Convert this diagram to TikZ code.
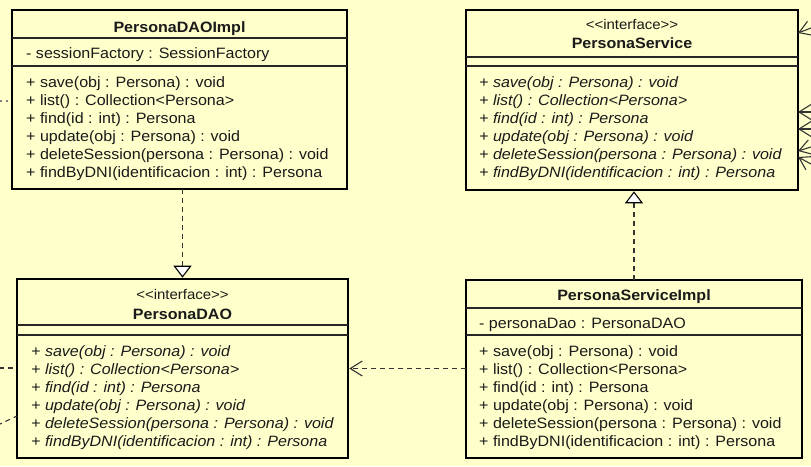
\documentclass[tikz,border=0pt]{standalone}
\usepackage{fontspec}
\setmainfont{Liberation Sans}[FakeStretch=1.07]
\usetikzlibrary{arrows.meta}
\definecolor{umlbg}{HTML}{FFFFCC}
\definecolor{ink}{HTML}{1A1A1A}

\tikzset{
  classbox/.style={draw=black, line width=2.6pt, fill=umlbg, anchor=north west, inner sep=0pt, outer sep=0pt},
  compartment/.style={draw=black!85, line width=1.4pt},
  member/.style={anchor=base west, inner sep=0pt, font=\fontsize{15}{18}\selectfont, text=ink},
  absmember/.style={member, font=\fontsize{15}{18}\selectfont\itshape},
  classname/.style={anchor=base, inner sep=0pt, font=\fontsize{15}{18}\selectfont\bfseries, text=ink},
  stereo/.style={anchor=base, inner sep=0pt, font=\fontsize{14}{17}\selectfont, text=ink},
  link/.style={draw=black!80, line width=1.1pt, dash pattern=on 5pt off 4pt},
  realize/.style={link, -{Triangle[open, fill=white, length=12pt, width=18pt, line width=1.1pt, color=black]}},
  uses/.style={link, -{Straight Barb[length=12pt, width=15pt, line width=1.1pt]}},
  incoming/.style={draw=black!80, line width=1.1pt, -{Straight Barb[length=12pt, width=15pt, line width=1.1pt]}},
}

\begin{document}
\begin{tikzpicture}[x=1pt, y=-1pt]
  % canvas
  \useasboundingbox (0,0) rectangle (811,466);
  \fill[umlbg] (0,0) rectangle (811,466);

  % ---------- PersonaDAOImpl ----------
  \node[classbox, minimum width=335pt, minimum height=179pt] (daoimpl) at (12,10) {};
  \draw[compartment] (daoimpl.west |- 0,38) -- (daoimpl.east |- 0,38);
  \draw[compartment] (daoimpl.west |- 0,66) -- (daoimpl.east |- 0,66);
  \node[classname] (daoimplname) at (179.5,32) {PersonaDAOImpl};
  \node[member] (daoimplattr) at (26,58) {- sessionFactory : SessionFactory};
  \node[member] (daoimplm1) at (26,87)  {+ save(obj : Persona) : void};
  \node[member] (daoimplm2) at (26,105) {+ list() : Collection<Persona>};
  \node[member] (daoimplm3) at (26,123) {+ find(id : int) : Persona};
  \node[member] (daoimplm4) at (26,141) {+ update(obj : Persona) : void};
  \node[member] (daoimplm5) at (26,159) {+ deleteSession(persona : Persona) : void};
  \node[member] (daoimplm6) at (26,177) {+ findByDNI(identificacion : int) : Persona};

  % ---------- PersonaService ----------
  \node[classbox, minimum width=332pt, minimum height=180pt] (service) at (466,10) {};
  \draw[compartment] (service.west |- 0,57) -- (service.east |- 0,57);
  \draw[compartment] (service.west |- 0,66) -- (service.east |- 0,66);
  \node[stereo] (servicestereo) at (632,29.5) {<{}<interface>{}>};
  \node[classname] (servicename) at (632,48) {PersonaService};
  \node[absmember] (servicem1) at (479,87)  {+ save(obj : Persona) : void};
  \node[absmember] (servicem2) at (479,105) {+ list() : Collection<Persona>};
  \node[absmember] (servicem3) at (479,123) {+ find(id : int) : Persona};
  \node[absmember] (servicem4) at (479,141) {+ update(obj : Persona) : void};
  \node[absmember] (servicem5) at (479,159) {+ deleteSession(persona : Persona) : void};
  \node[absmember] (servicem6) at (479,177) {+ findByDNI(identificacion : int) : Persona};

  % ---------- PersonaDAO ----------
  \node[classbox, minimum width=331pt, minimum height=179pt] (dao) at (17,279) {};
  \draw[compartment] (dao.west |- 0,325) -- (dao.east |- 0,325);
  \draw[compartment] (dao.west |- 0,335) -- (dao.east |- 0,335);
  \node[stereo] (daostereo) at (182.5,299) {<{}<interface>{}>};
  \node[classname] (daoname) at (182.5,319) {PersonaDAO};
  \node[absmember] (daom1) at (31,356) {+ save(obj : Persona) : void};
  \node[absmember] (daom2) at (31,374) {+ list() : Collection<Persona>};
  \node[absmember] (daom3) at (31,392) {+ find(id : int) : Persona};
  \node[absmember] (daom4) at (31,410) {+ update(obj : Persona) : void};
  \node[absmember] (daom5) at (31,428) {+ deleteSession(persona : Persona) : void};
  \node[absmember] (daom6) at (31,446) {+ findByDNI(identificacion : int) : Persona};

  % ---------- PersonaServiceImpl ----------
  \node[classbox, minimum width=336pt, minimum height=178pt] (impl) at (466,280) {};
  \draw[compartment] (impl.west |- 0,308) -- (impl.east |- 0,308);
  \draw[compartment] (impl.west |- 0,335) -- (impl.east |- 0,335);
  \node[classname] (implname) at (634,300.5) {PersonaServiceImpl};
  \node[member] (implattr) at (479,328) {- personaDao : PersonaDAO};
  \node[member] (implm1) at (479,356) {+ save(obj : Persona) : void};
  \node[member] (implm2) at (479,374) {+ list() : Collection<Persona>};
  \node[member] (implm3) at (479,392) {+ find(id : int) : Persona};
  \node[member] (implm4) at (479,410) {+ update(obj : Persona) : void};
  \node[member] (implm5) at (479,428) {+ deleteSession(persona : Persona) : void};
  \node[member] (implm6) at (479,446) {+ findByDNI(identificacion : int) : Persona};

  % ---------- relations ----------
  \draw[realize, shorten >=1.3pt] (dao.north |- daoimpl.south) -- (dao.north);
  \draw[realize, shorten >=1.3pt] (impl.north) -- (impl.north |- service.south);
  \draw[uses, shorten >=1.3pt] (impl.west |- dao.east) -- (dao.east);

  % connectors continuing past the left edge
  \coordinate (inA) at (0,101);
  \coordinate (inB) at (0,368);
  \coordinate (inC) at (0,424);
  \draw[link, dash pattern=on 2pt off 4pt, black!50] (inA) -- (daoimpl.west |- inA);
  \draw[link, dash phase=1pt] (inB) -- (dao.west |- inB);
  \draw[link, dash phase=3pt] (inC) -- (dao.west |- 0,416);

  % connectors arriving from the right edge
  \coordinate (outA) at (811,28);
  \coordinate (outB) at (811,112);
  \coordinate (outC) at (811,129);
  \coordinate (outD) at (811,147);
  \coordinate (outE) at (811,164);
  \draw[incoming] (outA) -- (service.east |- 0,33);
  \draw[incoming] (outB) -- (service.east |- outB);
  \draw[incoming] (outC) -- (service.east |- outC);
  \draw[incoming] (outD) -- (service.east |- 0,151);
  \draw[incoming] (outE) -- (service.east |- 0,157);
\end{tikzpicture}
\end{document}
